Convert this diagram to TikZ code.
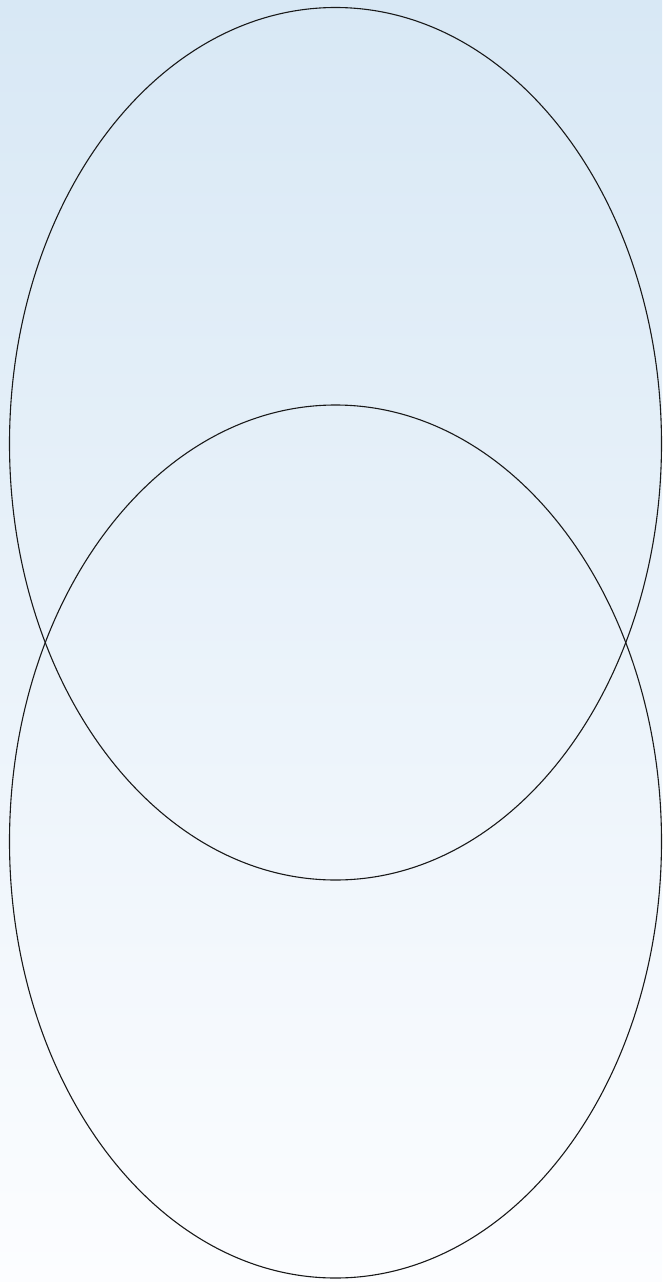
\documentclass[tikz,border=0pt]{standalone}
\definecolor{bgtop}{HTML}{D8E8F5}
\definecolor{bgbot}{HTML}{FCFDFF}
\tikzset{ring/.style={draw=black!90, line width=1.1pt}}
\begin{document}
\begin{tikzpicture}[x=1pt,y=-1pt]
\shade[top color=bgtop, bottom color=bgbot] (0,0) rectangle (662,1282);
\useasboundingbox (0,0) rectangle (662,1282);
\draw[ring] (335.5,443.75) ellipse [x radius=326, y radius=436.25];
\draw[ring] (335.5,841.5) ellipse [x radius=326, y radius=436.5];
\end{tikzpicture}
\end{document}
